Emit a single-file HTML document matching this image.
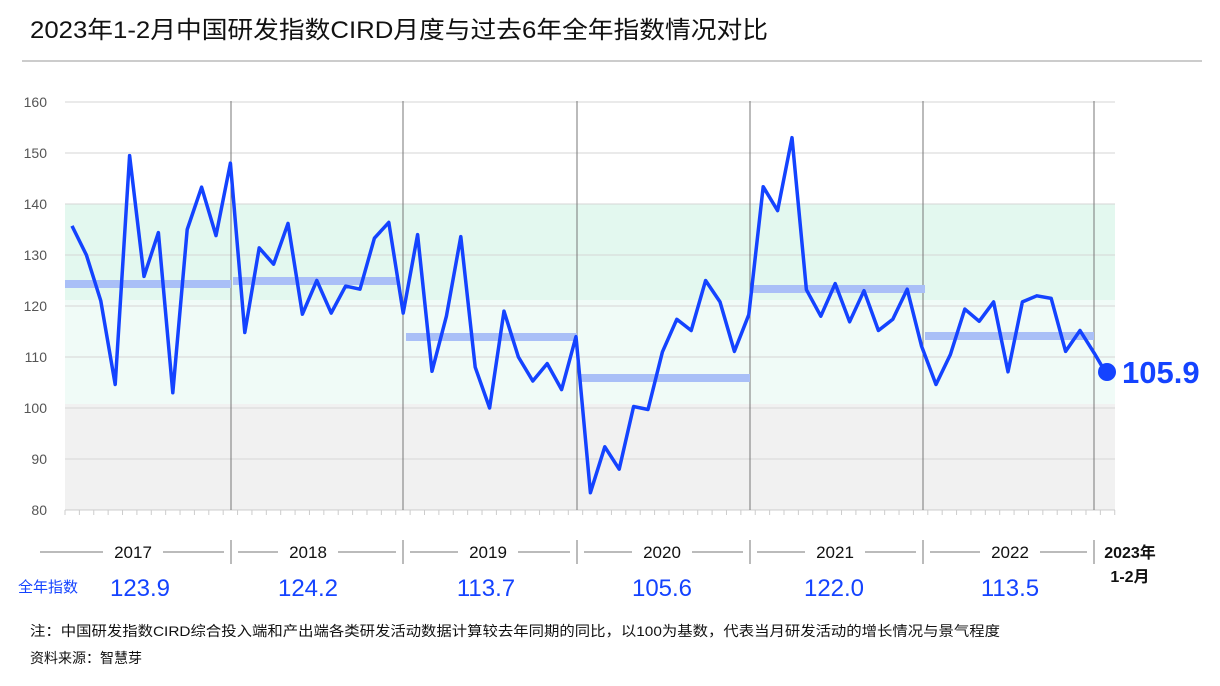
<!DOCTYPE html>
<html><head><meta charset="utf-8"><style>
body{margin:0;background:#fff;width:1220px;height:681px;overflow:hidden;font-family:"Liberation Sans","Noto Sans CJK SC",sans-serif;}
</style></head><body>
<svg id="s" width="1220" height="681" xmlns="http://www.w3.org/2000/svg" font-family="Liberation Sans, Noto Sans CJK SC, sans-serif">
<text x="30" y="38" font-size="24" fill="#111" textLength="738" lengthAdjust="spacingAndGlyphs">2023年1-2月中国研发指数CIRD月度与过去6年全年指数情况对比</text>
<line x1="22" y1="61" x2="1202" y2="61" stroke="#999" stroke-width="1"/>
<rect x="65" y="204" width="1050" height="96" fill="#e3f8ef"/>
<rect x="65" y="300" width="1050" height="104" fill="#f0fbf7"/>
<rect x="65" y="404" width="1050" height="106" fill="#f1f1f1"/>
<g id="g"></g>
<text x="30" y="636" font-size="14" fill="#111" textLength="970" lengthAdjust="spacingAndGlyphs">注：中国研发指数CIRD综合投入端和产出端各类研发活动数据计算较去年同期的同比，以100为基数，代表当月研发活动的增长情况与景气程度</text>
<text x="30" y="663" font-size="14" fill="#111">资料来源：智慧芽</text>
</svg>
<script>
var g=document.getElementById('g'),h='';
function Y(v){return 510-(v-80)*5.1;}
for(var v=80;v<=160;v+=10){var y=Y(v);h+='<line x1="65" x2="1115" y1="'+y+'" y2="'+y+'" stroke="#d6d6d6"/>';h+='<text x="47" y="'+(y+5)+'" font-size="14" fill="#555" text-anchor="end">'+v+'</text>';}
for(var i=0;i<=73;i++){var x=65+i*14.38;h+='<line x1="'+x+'" x2="'+x+'" y1="510" y2="515" stroke="#ccc"/>';}
h+='<line x1="65" x2="1115" y1="510" y2="510" stroke="#ccc"/>';
var vb=[231,403,577,750,923,1094];
vb.forEach(function(x){h+='<line x1="'+x+'" x2="'+x+'" y1="101" y2="510" stroke="#777"/>';h+='<line x1="'+x+'" x2="'+x+'" y1="540" y2="564" stroke="#777"/>';});
var yrs=[['2017',65,231,123.9,284,133,140],['2018',233,398,124.2,281,308,308],['2019',406,577,113.7,337,488,486],['2020',580,750,105.6,378,662,662],['2021',753,925,122.0,289,835,834],['2022',925,1094,113.5,336,1010,1010]];
var bounds=[40,231,403,577,750,923,1094];
yrs.forEach(function(r,k){var y=r[4];h+='<line x1="'+r[1]+'" x2="'+r[2]+'" y1="'+y+'" y2="'+y+'" stroke="#a9bff7" stroke-width="8"/>';
var a=bounds[k],b=bounds[k+1],c=r[5];
h+='<line x1="'+(a+(k==0?0:7))+'" x2="'+(c-30)+'" y1="552" y2="552" stroke="#777"/><line x1="'+(c+30)+'" x2="'+(b-7)+'" y1="552" y2="552" stroke="#777"/>';
h+='<text x="'+c+'" y="558" font-size="17" fill="#111" text-anchor="middle">'+r[0]+'</text>';
h+='<text x="'+r[6]+'" y="596" font-size="24" fill="#1443ff" text-anchor="middle">'+r[3].toFixed(1)+'</text>';});
h+='<text x="1130" y="558" font-size="16" font-weight="bold" fill="#111" text-anchor="middle">2023年</text><text x="1130" y="582" font-size="16" font-weight="bold" fill="#111" text-anchor="middle">1-2月</text>';
h+='<text x="18" y="592" font-size="15" fill="#1443ff">全年指数</text>';
var d=[135.7,130,121,104.6,149.5,125.8,134.4,103,135,143.3,133.8,148,
114.8,131.4,128.2,136.2,118.4,125,118.6,123.9,123.3,133.3,136.4,118.6,
134,107.2,118,133.6,108,100,119,110,105.3,108.7,103.6,114,
83.4,92.4,88,100.3,99.7,111,117.4,115.2,125,120.8,111.1,118.3,
143.4,138.7,153,123.2,118,124.4,116.9,123,115.2,117.4,123.3,112.1,
104.6,110.5,119.4,117,120.8,107.1,120.8,122,121.5,111.1,115.2,110.7,105.9];
var p=d.map(function(v,i){return (72+i*14.4).toFixed(1)+','+Y(v).toFixed(1);}).join(' ');
h+='<polyline points="'+p+'" fill="none" stroke="#1443ff" stroke-width="3.5" stroke-linejoin="round"/>';
h+='<circle cx="1107" cy="372" r="9" fill="#1443ff"/>';
h+='<text x="1122" y="383" font-size="31" font-weight="bold" fill="#1443ff">105.9</text>';
g.innerHTML=h;
</script>
</body></html>
